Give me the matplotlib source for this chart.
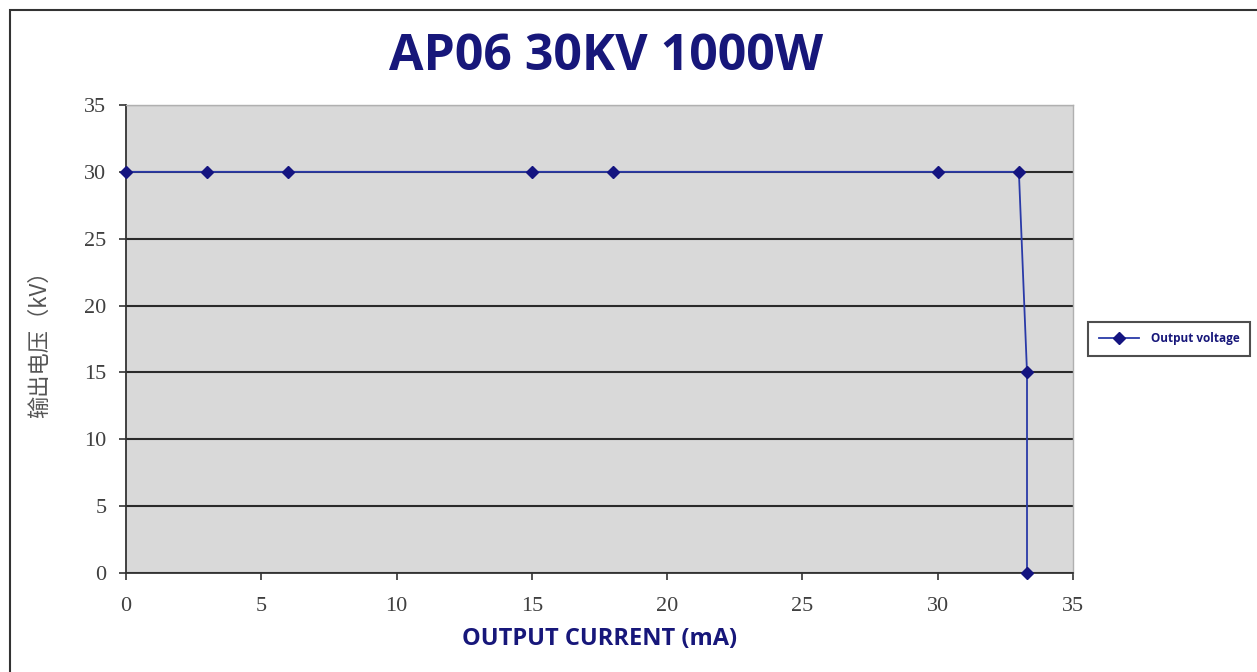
import matplotlib
matplotlib.use("Agg")
import matplotlib.pyplot as plt
from matplotlib.patches import Rectangle

current_mA = [0, 3, 6, 15, 18, 30, 33, 33.3, 33.3]
voltage_kV = [30, 30, 30, 30, 30, 30, 30, 15, 0]
x_ticks = [0, 5, 10, 15, 20, 25, 30, 35]
y_ticks = [0, 5, 10, 15, 20, 25, 30, 35]

navy = "#17177a"
line_col = "#2a3aa8"

fig = plt.figure(figsize=(12.57, 6.72), dpi=100)
fig.patch.set_facecolor("white")
fig.patches.append(Rectangle((10/1257, -0.05), 1.1, (672-10)/672 + 0.05, transform=fig.transFigure,
                             fill=False, edgecolor="#333333", linewidth=1.5))

ax = fig.add_axes([126/1257, (672-573)/672, (1073-126)/1257, (573-105)/672])
ax.set_facecolor("#d9d9d9")
ax.plot(current_mA, voltage_kV, color=line_col, linewidth=1.3, marker="D", markersize=6,
        markerfacecolor="#141480", markeredgecolor="#141480", label="Output voltage", clip_on=False, zorder=3)
ax.set_xlim(0, 35)
ax.set_ylim(0, 35)
ax.set_xticks(x_ticks)
ax.set_yticks(y_ticks)
ax.yaxis.grid(True, color="#2a2a2a", linewidth=1.5)
ax.set_axisbelow(True)
for s in ["top", "right"]:
    ax.spines[s].set_color("#b0b0b0")
    ax.spines[s].set_linewidth(1.0)
for s in ["left", "bottom"]:
    ax.spines[s].set_color("#333333")
    ax.spines[s].set_linewidth(1.3)
ax.tick_params(axis="both", direction="out", length=5, width=1.2, color="#333333",
               labelsize=16, labelcolor="#404040")
ax.tick_params(axis="x", pad=12)
ax.tick_params(axis="y", pad=9)
for lab in ax.get_xticklabels() + ax.get_yticklabels():
    lab.set_family("Liberation Serif")

ax.set_ylabel("输出电压（kV）", family=["Noto Sans CJK SC", "DejaVu Sans"], fontsize=16,
              color="#555555", labelpad=24)
ax.set_xlabel("OUTPUT CURRENT (mA)", family="Open Sans", fontweight="bold", fontsize=17,
              color=navy, labelpad=8)
fig.text(606/1257, 1 - 57/672, "AP06 30KV 1000W", family="Open Sans", fontweight="bold",
         fontsize=36, color=navy, ha="center", va="center")

leg = fig.legend(loc="lower left", bbox_to_anchor=(1088/1257, (672-356)/672), frameon=True,
                 fancybox=False, edgecolor="#222222", prop={"family": "Open Sans", "weight": "bold", "size": 8.5},
                 handlelength=3.4, handletextpad=1.0, borderpad=0.9, borderaxespad=0)
leg.get_frame().set_linewidth(1.5)
for t in leg.get_texts():
    t.set_color(navy)

fig.savefig("out.png", dpi=100)
